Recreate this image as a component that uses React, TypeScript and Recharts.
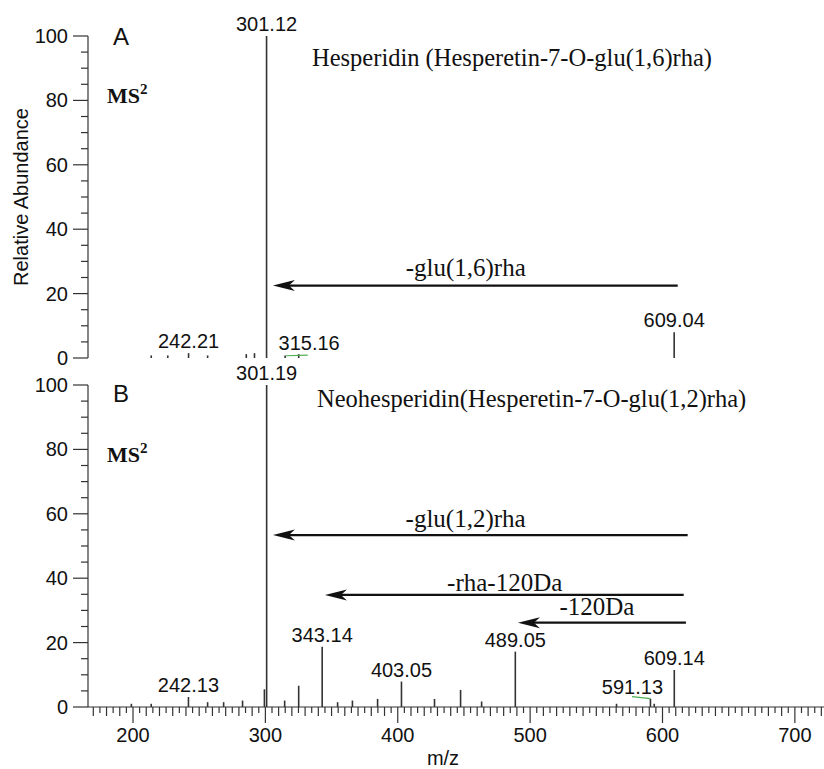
import React from 'react';
import { ComposedChart, Bar, XAxis, YAxis, ReferenceLine, LabelList } from 'recharts';

// ---------- data ----------
const massA = [214.0, 226.5, 242.21, 256.6, 285.8, 292.0, 301.12, 315.16, 325.4, 609.04];
const intensityA = [0.8, 0.8, 1.5, 0.8, 1.2, 1.5, 100, 0.8, 1.2, 8.0];
const labelsA = ['', '', '242.21', '', '', '', '301.12', '315.16', '', '609.04'];

const massB = [199.0, 214.0, 242.13, 256.6, 268.7, 283.0, 299.5, 301.19, 314.8, 325.4, 343.14, 354.8, 366.0, 385.0,
  403.05, 428.0, 447.7, 463.6, 489.05, 565.5, 591.13, 594.0, 609.14];
const intensityB = [1.0, 1.0, 3.1, 1.5, 1.5, 2.0, 5.5, 100, 2.0, 6.6, 18.7, 1.5, 2.0, 2.5,
  7.9, 2.5, 5.3, 1.7, 17.2, 1.0, 2.5, 1.0, 11.5];
const labelsB = ['', '', '242.13', '', '', '', '', '301.19', '', '', '343.14', '', '', '',
  '403.05', '', '', '', '489.05', '', '591.13', '', '609.14'];

// neutral-loss arrows: label, precursor m/z (tail), fragment m/z (head), height (%)
const arrowLabelsA = ['-glu(1,6)rha'];
const arrowFromA = [611.5];
const arrowToA = [305.7];
const arrowYA = [22.5];

const arrowLabelsB = ['-glu(1,2)rha', '-rha-120Da', '-120Da'];
const arrowFromB = [619.0, 616.0, 617.7];
const arrowToB = [305.7, 345.0, 490.8];
const arrowYB = [53.4, 34.8, 26.2];

const xTickValues: number[] = [];
for (let v = 170; v <= 720; v += 5) xTickValues.push(v);
const yTickValues: number[] = [];
for (let v = 0; v <= 100; v += 5) yTickValues.push(v);

// ---------- styles ----------
const SANS = '"Liberation Sans", Arial, sans-serif';
const SERIF = '"Liberation Serif", "Times New Roman", serif';
const AXIS = '#333';
const INK = '#111';
const X_DOMAIN: [number, number] = [166, 722];

const labelShift: Record<string, number> = { '315.16': 24, '591.13': -18 };
// label offset (px) relative to the arrow tail and line
const arrowTextA = [{ dx: -212, dy: -10 }];
const arrowTextB = [{ dx: -222, dy: -8 }, { dx: -179, dy: -4 }, { dx: -89, dy: -8 }];

const rows = (mass: number[], inten: number[], labels: string[]) =>
  mass.map((m, i) => ({ mz: m, ab: inten[i], label: labels[i] }));
const dataA = rows(massA, intensityA, labelsA);
const dataB = rows(massB, intensityB, labelsB);

const PeakLabel = (props: any) => {
  const { x, y, width, value } = props;
  if (!value) return null;
  const dx = labelShift[value] ?? 0;
  return (
    <text x={Number(x) + Number(width) / 2 + dx} y={Number(y) - 5} textAnchor="middle"
      fontSize={20} fontFamily={SANS} fill={INK}>{value}</text>
  );
};

const YTick = (props: any) => {
  const { x, y, payload } = props;
  const v = payload.value;
  const major = v % 20 === 0;
  return (
    <g>
      <line x1={x - (major ? 15 : 7)} y1={y} x2={x} y2={y} stroke={AXIS} strokeWidth={1.2} />
      {major && (
        <text x={x - 20} y={y + 7} textAnchor="end" fontSize={20} fontFamily={SANS} fill={INK}>{v}</text>
      )}
    </g>
  );
};

const XTick = (props: any) => {
  const { x, y, payload } = props;
  const v = payload.value;
  const len = v % 100 === 0 ? 16 : v % 10 === 0 ? 9 : 6;
  return (
    <g>
      <line x1={x} y1={y} x2={x} y2={y + len} stroke={AXIS} strokeWidth={1.2} />
      {v % 100 === 0 && (
        <text x={x} y={y + 35} textAnchor="middle" fontSize={20} fontFamily={SANS} fill={INK}>{v}</text>
      )}
    </g>
  );
};

const makeArrow = (text: string, dx: number, dy: number) => (p: any) => {
  const x1 = Number(p.x1), x2 = Number(p.x2), y = Number(p.y1);
  const tip = Math.min(x1, x2), tail = Math.max(x1, x2);
  return (
    <g>
      <line x1={tip + 14} y1={y} x2={tail} y2={y} stroke={INK} strokeWidth={2.2} />
      <path d={`M${tip},${y} L${tip + 22},${y - 5.5} L${tip + 16},${y} L${tip + 22},${y + 5.5} Z`} fill={INK} />
      <text x={tail + dx} y={y + dy} textAnchor="middle" fontSize={25} fontFamily={SERIF} fill={INK}>{text}</text>
    </g>
  );
};

const renderArrows = (labels: string[], from: number[], to: number[], ys: number[], styles: { dx: number; dy: number }[]) =>
  labels.map((t, i) => (
    <ReferenceLine key={t} segment={[{ x: to[i], y: ys[i] }, { x: from[i], y: ys[i] }]}
      stroke={INK} ifOverflow="visible" shape={makeArrow(t, styles[i].dx, styles[i].dy)} />
  ));

export default function App() {
  return (
    <div style={{ position: 'absolute', left: 0, top: 0, width: 824, height: 769, background: '#fff', fontFamily: SANS }}>
      <div style={{ position: 'absolute', left: 0, top: 0 }}>
        <ComposedChart width={824} height={370} data={dataA} margin={{ top: 36, right: 0, bottom: 12, left: 0 }}>
          <XAxis dataKey="mz" type="number" domain={X_DOMAIN} allowDataOverflow height={0}
            tick={false} tickLine={false} axisLine={{ stroke: AXIS, strokeWidth: 1.2 }} />
          <YAxis type="number" domain={[0, 100]} ticks={yTickValues} interval={0} width={88}
            tickSize={0} tickMargin={0} tickLine={false} tick={<YTick />} axisLine={{ stroke: AXIS, strokeWidth: 1.2 }} />
          <Bar dataKey="ab" fill="#333" barSize={1.6} isAnimationActive={false}>
            <LabelList dataKey="label" content={<PeakLabel />} />
          </Bar>
          <ReferenceLine segment={[{ x: 315.5, y: 0.7 }, { x: 332, y: 0.9 }]} stroke="#4caf50" strokeWidth={1.2} />
          {renderArrows(arrowLabelsA, arrowFromA, arrowToA, arrowYA, arrowTextA)}
        </ComposedChart>
      </div>
      <div style={{ position: 'absolute', left: 0, top: 340 }}>
        <ComposedChart width={824} height={429} data={dataB} margin={{ top: 45, right: 0, bottom: 0, left: 0 }}>
          <XAxis dataKey="mz" type="number" domain={X_DOMAIN} allowDataOverflow height={62}
            ticks={xTickValues} interval={0} tickSize={0} tickMargin={0} tickLine={false}
            tick={<XTick />} axisLine={{ stroke: AXIS, strokeWidth: 1.2 }} />
          <YAxis type="number" domain={[0, 100]} ticks={yTickValues} interval={0} width={88}
            tickSize={0} tickMargin={0} tickLine={false} tick={<YTick />} axisLine={{ stroke: AXIS, strokeWidth: 1.2 }} />
          <Bar dataKey="ab" fill="#333" barSize={1.6} isAnimationActive={false}>
            <LabelList dataKey="label" content={<PeakLabel />} />
          </Bar>
          <ReferenceLine segment={[{ x: 577, y: 3.2 }, { x: 591, y: 2.6 }]} stroke="#4caf50" strokeWidth={1.2} />
          {renderArrows(arrowLabelsB, arrowFromB, arrowToB, arrowYB, arrowTextB)}
        </ComposedChart>
      </div>
      <svg width={824} height={769} style={{ position: 'absolute', left: 0, top: 0, pointerEvents: 'none' }}>
        <text transform="translate(28,197) rotate(-90)" textAnchor="middle" fontSize={20} fontFamily={SANS} fill={INK}>Relative Abundance</text>
        <text x={113} y={45} fontSize={24} fontFamily={SANS} fill={INK}>A</text>
        <text x={113} y={402} fontSize={24} fontFamily={SANS} fill={INK}>B</text>
        <text x={107} y={103} fontSize={22} fontWeight="bold" fontFamily={SERIF} fill={INK}>MS<tspan fontSize={15} dy={-9}>2</tspan></text>
        <text x={107} y={462} fontSize={22} fontWeight="bold" fontFamily={SERIF} fill={INK}>MS<tspan fontSize={15} dy={-9}>2</tspan></text>
        <text x={312} y={66} fontSize={24.5} fontFamily={SERIF} fill={INK}>Hesperidin (Hesperetin-7-O-glu(1,6)rha)</text>
        <text x={317} y={407} fontSize={24.5} fontFamily={SERIF} fill={INK}>Neohesperidin(Hesperetin-7-O-glu(1,2)rha)</text>
        <text x={443} y={765} textAnchor="middle" fontSize={20} fontFamily={SANS} fill={INK}>m/z</text>
      </svg>
    </div>
  );
}
